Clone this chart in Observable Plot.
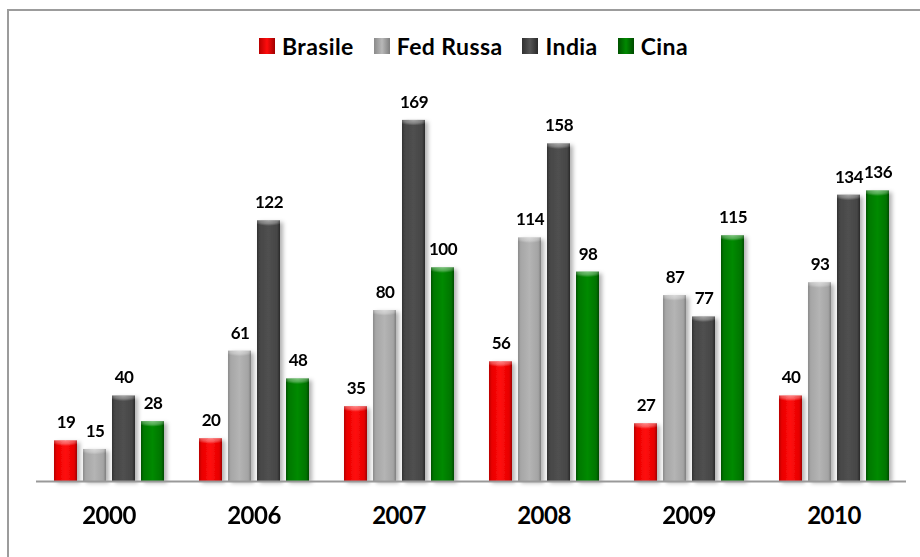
<!DOCTYPE html>
<html>
<head>
<meta charset="utf-8">
<script src="https://cdn.jsdelivr.net/npm/d3@7"></script>
<script src="https://cdn.jsdelivr.net/npm/@observablehq/plot@0.6"></script>
<style>
  html, body { margin: 0; padding: 0; background: #fff; overflow: hidden; width: 920px; height: 557px; }
  #frame { position: absolute; left: 7px; top: 9px; width: 2000px; height: 2000px;
           border-left: 2px solid #9c9c9c; border-top: 2px solid #9c9c9c; pointer-events: none; }
  #legend { position: absolute; left: 259px; top: 34px; height: 24px; display: flex; align-items: center;
            font-family: Lato, "Open Sans", sans-serif; font-weight: bold; font-size: 23px; letter-spacing: 0.4px;
            color: #000; white-space: nowrap; }
  #legend .item { display: flex; align-items: center; margin-right: 20px; }
  #legend .sw { width: 16px; height: 16px; margin-right: 7px; box-sizing: border-box; }
  #chart { position: absolute; left: 0; top: 70px; }
  #chart g[aria-label="text"] { letter-spacing: -0.5px; }
</style>
</head>
<body>
<svg width="0" height="0" style="position:absolute">
  <defs>
    <linearGradient id="bar0" x1="0" x2="1" y1="0" y2="0">
      <stop offset="0" stop-color="#b80000"/>
      <stop offset="0.12" stop-color="#e80000"/>
      <stop offset="0.5" stop-color="#ff0c0c"/>
      <stop offset="0.88" stop-color="#e60000"/>
      <stop offset="1" stop-color="#a00000"/>
    </linearGradient>
    <linearGradient id="bar1" x1="0" x2="1" y1="0" y2="0">
      <stop offset="0" stop-color="#8a8a8a"/>
      <stop offset="0.12" stop-color="#a6a6a6"/>
      <stop offset="0.5" stop-color="#b4b4b4"/>
      <stop offset="0.88" stop-color="#a4a4a4"/>
      <stop offset="1" stop-color="#7e7e7e"/>
    </linearGradient>
    <linearGradient id="bar2" x1="0" x2="1" y1="0" y2="0">
      <stop offset="0" stop-color="#303030"/>
      <stop offset="0.12" stop-color="#464646"/>
      <stop offset="0.5" stop-color="#505050"/>
      <stop offset="0.88" stop-color="#454545"/>
      <stop offset="1" stop-color="#2a2a2a"/>
    </linearGradient>
    <linearGradient id="bar3" x1="0" x2="1" y1="0" y2="0">
      <stop offset="0" stop-color="#005200"/>
      <stop offset="0.12" stop-color="#007800"/>
      <stop offset="0.5" stop-color="#008a00"/>
      <stop offset="0.88" stop-color="#007400"/>
      <stop offset="1" stop-color="#004a00"/>
    </linearGradient>
    <radialGradient id="cap" cx="0.5" cy="0" r="0.7" fx="0.5" fy="0">
      <stop offset="0" stop-color="#fff" stop-opacity="0.5"/>
      <stop offset="0.6" stop-color="#fff" stop-opacity="0.3"/>
      <stop offset="1" stop-color="#fff" stop-opacity="0"/>
    </radialGradient>
    <filter id="shadow" x="-20%" y="-5%" width="150%" height="115%">
      <feDropShadow dx="3" dy="2" stdDeviation="2" flood-color="#000" flood-opacity="0.3"/>
    </filter>
  </defs>
</svg>
<div id="frame"></div>
<div id="legend"></div>
<div id="chart"></div>
<script>
const years = ["2000", "2006", "2007", "2008", "2009", "2010"];
const series = ["Brasile", "Fed Russa", "India", "Cina"];
const brasile = [19, 20, 35, 56, 27, 40];
const fedRussa = [15, 61, 80, 114, 87, 93];
const india = [40, 122, 169, 158, 77, 134];
const cina = [28, 48, 100, 98, 115, 136];
const swatchCss = [
  "linear-gradient(to right,#b80000,#ff0c0c,#a00000)",
  "linear-gradient(to right,#8a8a8a,#b8b8b8,#7e7e7e)",
  "linear-gradient(to right,#303030,#555,#2a2a2a)",
  "linear-gradient(to right,#005200,#008a00,#004a00)"
];

const valuesBySeries = [brasile, fedRussa, india, cina];
const data = years.flatMap((year, i) =>
  series.map((s, j) => ({year, series: s, value: valuesBySeries[j][i]}))
);

// legend
const legend = document.getElementById("legend");
series.forEach((s, i) => {
  const item = document.createElement("div");
  item.className = "item";
  const sw = document.createElement("div");
  sw.className = "sw";
  sw.style.background = swatchCss[i];
  const t = document.createElement("span");
  t.textContent = s;
  item.appendChild(sw);
  item.appendChild(t);
  legend.appendChild(item);
});

const chart = Plot.plot({
  width: 920,
  height: 487,
  marginLeft: 36,
  marginRight: 14,
  marginTop: 20,
  marginBottom: 76,
  style: {fontFamily: "Lato, 'Open Sans', sans-serif", background: "transparent", overflow: "visible"},
  fx: {domain: years, padding: 0, axis: null},
  x: {domain: series, paddingInner: 0.207, paddingOuter: 0.603, axis: null},
  y: {domain: [0, 183], axis: null},
  color: {domain: series, range: series.map((s, i) => `url(#bar${i})`)},
  marks: [
    Plot.barY(data, {fx: "year", x: "series", y: "value", fill: "series"}),
    Plot.barY(data, {fx: "year", x: "series", y1: "value", y2: "value", insetBottom: -8, fill: "url(#cap)"}),
    Plot.ruleY([0], {stroke: "#999", strokeWidth: 2}),
    Plot.text(data, {fx: "year", x: "series", y: "value", text: d => String(d.value), dy: -18,
      fontSize: 17, fontWeight: "bold", fill: "#000"}),
    Plot.text(years, {fx: d => d, text: d => d, frameAnchor: "bottom", dy: 42,
      fontSize: 24, fontWeight: "bold", fill: "#000"})
  ]
});
document.getElementById("chart").appendChild(chart);
const firstBar = chart.querySelector('g[aria-label="bar"]');
if (firstBar) firstBar.setAttribute("filter", "url(#shadow)");
</script>
</body>
</html>
